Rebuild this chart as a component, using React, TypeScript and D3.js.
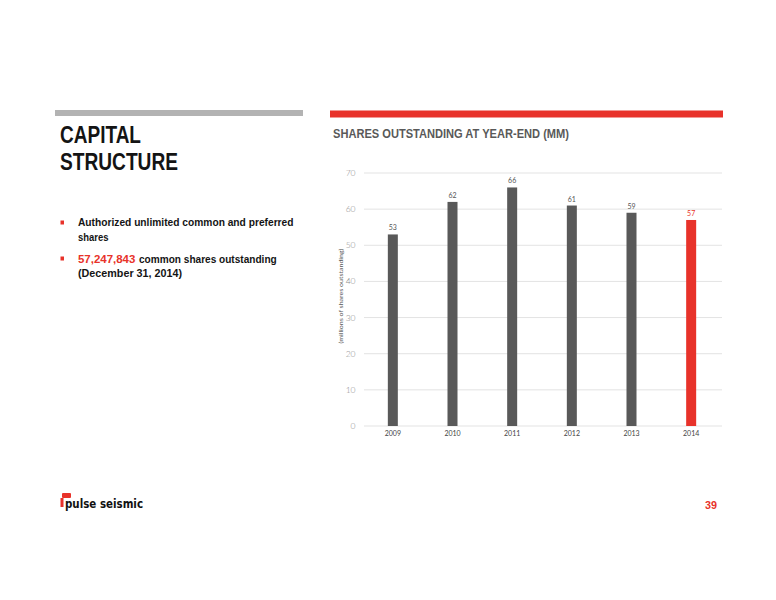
import React from "react";
import * as d3 from "d3";

const years = ["2009", "2010", "2011", "2012", "2013", "2014"];
const shares = [53, 62, 66, 61, 59, 57];
const yTicks = [0, 10, 20, 30, 40, 50, 60, 70];

const COND = "'Liberation Sans', Arial, sans-serif";
const LIGHT = "Lato, 'DejaVu Sans', sans-serif";
const RED = "#e8322a";
const GRAY = "#595959";
const INK = "#141414";

export default function App() {
  const x = d3.scaleBand().domain(years).range([363, 721]).paddingInner(0).paddingOuter(0);
  const y = d3.scaleLinear().domain([0, 70]).range([426, 173]);
  const barW = 10;

  const cond = (props: any, txt: string) => (
    <text
      fontFamily={COND}
      fontWeight="bold"
      lengthAdjust="spacingAndGlyphs"
      {...props}
    >
      {txt}
    </text>
  );

  return (
    <svg width={776} height={600} style={{ position: "absolute", left: 0, top: 0, background: "#fff" }}>
      {/* header bars */}
      <rect x={55} y={110} width={248} height={6} fill="#b3b3b3" />
      <rect x={330} y={110.5} width={393} height={7} fill={RED} />

      {/* left title */}
      {cond({ x: 60, y: 142.7, fontSize: 23.5, fill: INK, textLength: 81 }, "CAPITAL")}
      {cond({ x: 60, y: 170, fontSize: 23.5, fill: INK, textLength: 118 }, "STRUCTURE")}

      {/* bullets */}
      <rect x={60.5} y={220.5} width={3.5} height={4} fill={RED} />
      {cond({ x: 78, y: 226.3, fontSize: 11, fill: INK, textLength: 215.5 }, "Authorized unlimited common and preferred")}
      {cond({ x: 78, y: 240.5, fontSize: 11, fill: INK, textLength: 30.5 }, "shares")}
      <rect x={60.5} y={256.5} width={3.5} height={4} fill={RED} />
      {cond({ x: 78, y: 262.8, fontSize: 11, fill: RED, textLength: 57.3 }, "57,247,843")}
      {cond({ x: 139, y: 262.8, fontSize: 11, fill: INK, textLength: 137.7 }, "common shares outstanding")}
      {cond({ x: 78, y: 276.5, fontSize: 11, fill: INK, textLength: 104 }, "(December 31, 2014)")}

      {/* chart title */}
      {cond({ x: 333, y: 137.7, fontSize: 13.5, fill: GRAY, textLength: 236 }, "SHARES OUTSTANDING AT YEAR-END (MM)")}

      {/* gridlines */}
      {yTicks.map((t) => (
        <g key={t}>
          <line x1={364} x2={722} y1={y(t)} y2={y(t)} stroke="#e3e3e3" strokeWidth={1} />
          <text x={355.5} y={y(t) + 3} textAnchor="end" fontFamily={LIGHT} fontWeight={300} fontSize={8.5} fill="#8c8c8c">{t}</text>
        </g>
      ))}

      {/* y axis title */}
      <text
        transform={`translate(343,296) rotate(-90)`}
        textAnchor="middle"
        fontFamily={LIGHT}
        fontSize={6.5}
        fill="#555"
        textLength={95}
        lengthAdjust="spacingAndGlyphs"
      >(millions of shares outstanding)</text>

      {/* bars */}
      {years.map((yr, i) => {
        const cx = (x(yr) as number) + x.bandwidth() / 2;
        const last = i === years.length - 1;
        const col = last ? RED : GRAY;
        return (
          <g key={yr}>
            <rect x={cx - barW / 2} y={y(shares[i])} width={barW} height={y(0) - y(shares[i])} fill={col} />
            <text x={cx} y={y(shares[i]) - 4} textAnchor="middle" fontFamily={LIGHT} fontSize={7} fill={last ? RED : "#555"}>{shares[i]}</text>
            <text x={cx} y={436} textAnchor="middle" fontFamily={LIGHT} fontSize={7} fill="#444">{yr}</text>
          </g>
        );
      })}

      {/* logo */}
      <g>
        <rect x={62} y={493} width={9} height={5} rx={1} fill={RED} />
        <rect x={60.5} y={498} width={3} height={9} fill={RED} />
        <text x={65} y={508} fontFamily="'DejaVu Sans', sans-serif" fontWeight="bold" fontSize={12} fill="#111" textLength={78} lengthAdjust="spacingAndGlyphs">pulse seismic</text>
      </g>

      {/* page number */}
      {cond({ x: 705, y: 509, fontSize: 10, fill: RED, textLength: 12 }, "39")}
    </svg>
  );
}
